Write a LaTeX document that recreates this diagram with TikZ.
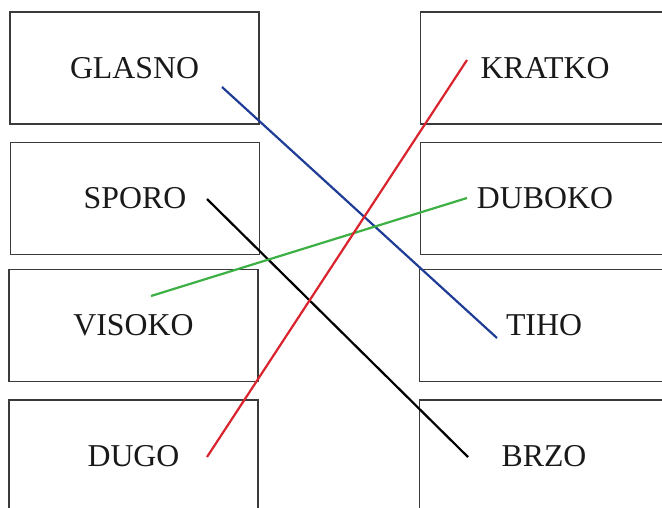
\documentclass[tikz,border=0pt]{standalone}
\usepackage{fontspec}
\setmainfont{Liberation Serif}
\usepackage{tikz}
\definecolor{lblue}{HTML}{1F3C96}
\definecolor{lred}{HTML}{D9232D}
\definecolor{lgreen}{HTML}{3DB043}
\definecolor{frame}{HTML}{3A3A3A}
\tikzset{
  wordbox/.style={draw=frame,line width=1.2pt,minimum width=249pt,minimum height=112pt,
    inner sep=0pt,font=\fontsize{31.8}{31.8}\selectfont,text=black!90},
  pairline/.style={line width=2.2pt}
}
\begin{document}
\begin{tikzpicture}[x=1pt,y=-1pt]
\useasboundingbox (0,0) rectangle (662,507);
\clip (0,0) rectangle (662,507);
% left column
\node[wordbox] (glasno) at (134.5,68) {GLASNO};
\node[wordbox] (sporo) at (135,198.5) {SPORO};
\node[wordbox] (visoko) at (133.5,325.5) {VISOKO};
\node[wordbox] (dugo) at (133.5,456) {DUGO};
% right column
\node[wordbox] (kratko) at (545,68) {KRATKO};
\node[wordbox] (duboko) at (545,198.5) {DUBOKO};
\node[wordbox] (tiho) at (544,325.5) {TIHO};
\node[wordbox] (brzo) at (544,456) {BRZO};
% line ends
\coordinate (glasnoE) at (222,87);
\coordinate (sporoE) at (207,199);
\coordinate (visokoE) at (151,296);
\coordinate (dugoE) at (207,457);
\coordinate (kratkoW) at (467,60);
\coordinate (dubokoW) at (467,198);
\coordinate (tihoW) at (497,338);
\coordinate (brzoW) at (468,457);
% pairs
\draw[pairline,lblue] (glasnoE) -- (tihoW);
\draw[pairline,black] (sporoE) -- (brzoW);
\draw[pairline,lgreen] (visokoE) -- (dubokoW);
\draw[pairline,lred] (dugoE) -- (kratkoW);
\end{tikzpicture}
\end{document}
